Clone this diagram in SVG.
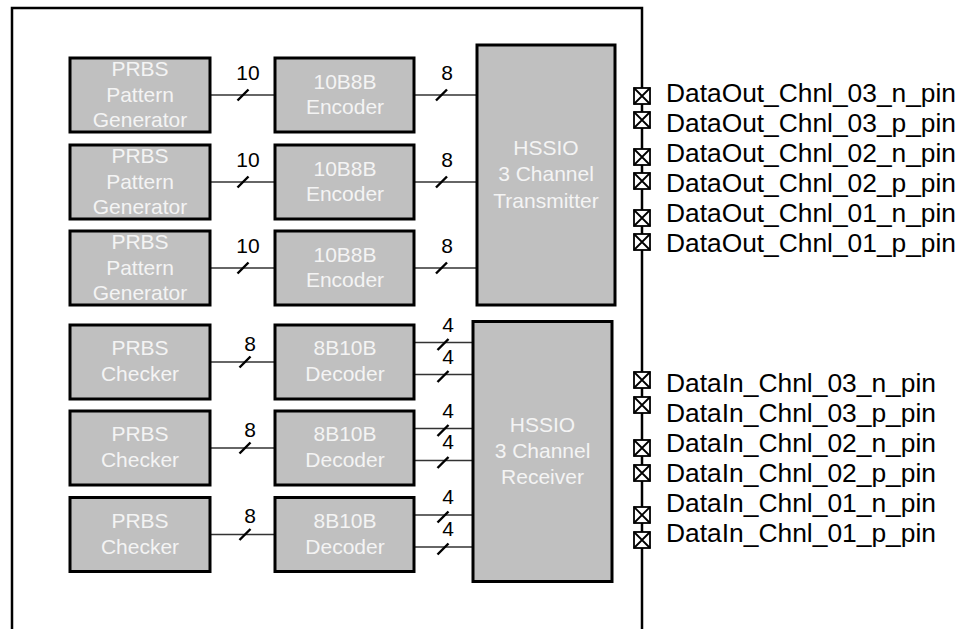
<svg xmlns="http://www.w3.org/2000/svg" width="963" height="629" viewBox="0 0 963 629">
<style>
.blk{fill:#c0c0c0;stroke:#000;stroke-width:3}
.bt{font-family:"Liberation Sans",Arial,sans-serif;font-size:21px;fill:#f4f4f4;text-anchor:middle}
.lbl{font-family:"Liberation Sans",Arial,sans-serif;font-size:21px;fill:#000;text-anchor:middle}
.pin{font-family:"Liberation Sans",Arial,sans-serif;font-size:25.5px;fill:#000}
.wire{stroke:#333;stroke-width:1.6;fill:none}
.sl{stroke:#000;stroke-width:2.4}
.frame{stroke:#000;stroke-width:2.5;fill:none}
.pb{fill:#fff;stroke:#000;stroke-width:1.8}
</style>
<defs>
<g id="pad"><rect class="pb" x="-8" y="-8" width="16" height="16"/><path d="M-8,-8L8,8M8,-8L-8,8" stroke="#000" stroke-width="1.8"/></g>
<path id="slash" d="M-5.5,5.5L5.5,-5.5" class="sl"/>
</defs>
<path class="frame" d="M12,629V8H642V629"/>

<g id="connectors">
<line class="wire" x1="210" y1="95" x2="275" y2="95"/>
<line class="wire" x1="210" y1="182" x2="275" y2="182"/>
<line class="wire" x1="210" y1="268" x2="275" y2="268"/>
<line class="wire" x1="414" y1="95" x2="477" y2="95"/>
<line class="wire" x1="414" y1="182" x2="477" y2="182"/>
<line class="wire" x1="414" y1="268" x2="477" y2="268"/>
<line class="wire" x1="210" y1="362" x2="275" y2="362"/>
<line class="wire" x1="210" y1="448" x2="275" y2="448"/>
<line class="wire" x1="210" y1="534.5" x2="275" y2="534.5"/>
<line class="wire" x1="414" y1="342.5" x2="473" y2="342.5"/>
<line class="wire" x1="414" y1="374.5" x2="473" y2="374.5"/>
<line class="wire" x1="414" y1="428.5" x2="473" y2="428.5"/>
<line class="wire" x1="414" y1="460.5" x2="473" y2="460.5"/>
<line class="wire" x1="414" y1="515" x2="473" y2="515"/>
<line class="wire" x1="414" y1="547" x2="473" y2="547"/>
<use href="#slash" x="243" y="95"/>
<use href="#slash" x="243" y="182"/>
<use href="#slash" x="243" y="268"/>
<use href="#slash" x="441.5" y="95"/>
<use href="#slash" x="441.5" y="182"/>
<use href="#slash" x="441.5" y="268"/>
<use href="#slash" x="245" y="362"/>
<use href="#slash" x="245" y="448"/>
<use href="#slash" x="245" y="534.5"/>
<use href="#slash" x="443" y="344.5"/>
<use href="#slash" x="443" y="376.5"/>
<use href="#slash" x="443" y="430.5"/>
<use href="#slash" x="443" y="462.5"/>
<use href="#slash" x="443" y="517"/>
<use href="#slash" x="443" y="549"/>
<text class="lbl" x="248" y="80">10</text>
<text class="lbl" x="248" y="167">10</text>
<text class="lbl" x="248" y="253">10</text>
<text class="lbl" x="447" y="80">8</text>
<text class="lbl" x="447" y="167">8</text>
<text class="lbl" x="447" y="253">8</text>
<text class="lbl" x="250" y="350.5">8</text>
<text class="lbl" x="250" y="436.5">8</text>
<text class="lbl" x="250" y="523">8</text>
<text class="lbl" x="448" y="331.5">4</text>
<text class="lbl" x="448" y="363.5">4</text>
<text class="lbl" x="448" y="417.5">4</text>
<text class="lbl" x="448" y="449">4</text>
<text class="lbl" x="448" y="504">4</text>
<text class="lbl" x="448" y="535.5">4</text>
</g>

<g id="gen1"><rect class="blk" x="70" y="58" width="140" height="74"/><text class="bt" x="140" y="76">PRBS</text><text class="bt" x="140" y="101.7">Pattern</text><text class="bt" x="140" y="127.3">Generator</text></g>
<g id="gen2"><rect class="blk" x="70" y="145" width="140" height="74"/><text class="bt" x="140" y="163">PRBS</text><text class="bt" x="140" y="188.7">Pattern</text><text class="bt" x="140" y="214.3">Generator</text></g>
<g id="gen3"><rect class="blk" x="70" y="231" width="140" height="74"/><text class="bt" x="140" y="249">PRBS</text><text class="bt" x="140" y="274.7">Pattern</text><text class="bt" x="140" y="300.3">Generator</text></g>

<g id="enc1"><rect class="blk" x="275" y="58" width="139" height="74"/><text class="bt" x="345" y="89.3">10B8B</text><text class="bt" x="345" y="114.3">Encoder</text></g>
<g id="enc2"><rect class="blk" x="275" y="145" width="139" height="74"/><text class="bt" x="345" y="176.3">10B8B</text><text class="bt" x="345" y="201.3">Encoder</text></g>
<g id="enc3"><rect class="blk" x="275" y="231" width="139" height="74"/><text class="bt" x="345" y="262.3">10B8B</text><text class="bt" x="345" y="287.3">Encoder</text></g>

<g id="tx"><rect class="blk" x="477" y="45" width="138" height="260"/><text class="bt" x="546" y="154.5">HSSIO</text><text class="bt" x="546" y="181">3 Channel</text><text class="bt" x="546" y="207.5">Transmitter</text></g>

<g id="chk1"><rect class="blk" x="70" y="325" width="140" height="74"/><text class="bt" x="140" y="355">PRBS</text><text class="bt" x="140" y="381">Checker</text></g>
<g id="chk2"><rect class="blk" x="70" y="411" width="140" height="74"/><text class="bt" x="140" y="441">PRBS</text><text class="bt" x="140" y="467">Checker</text></g>
<g id="chk3"><rect class="blk" x="70" y="497.5" width="140" height="74"/><text class="bt" x="140" y="527.5">PRBS</text><text class="bt" x="140" y="553.5">Checker</text></g>

<g id="dec1"><rect class="blk" x="275" y="325" width="139" height="74"/><text class="bt" x="345" y="355">8B10B</text><text class="bt" x="345" y="381">Decoder</text></g>
<g id="dec2"><rect class="blk" x="275" y="411" width="139" height="74"/><text class="bt" x="345" y="441">8B10B</text><text class="bt" x="345" y="467">Decoder</text></g>
<g id="dec3"><rect class="blk" x="275" y="497.5" width="139" height="74"/><text class="bt" x="345" y="527.5">8B10B</text><text class="bt" x="345" y="553.5">Decoder</text></g>

<g id="rx"><rect class="blk" x="473" y="321.5" width="139" height="260"/><text class="bt" x="542.5" y="432">HSSIO</text><text class="bt" x="542.5" y="458">3 Channel</text><text class="bt" x="542.5" y="484">Receiver</text></g>

<g id="pins_out">
<use href="#pad" x="642" y="96"/><use href="#pad" x="642" y="120"/>
<use href="#pad" x="642" y="157"/><use href="#pad" x="642" y="181"/>
<use href="#pad" x="642" y="218"/><use href="#pad" x="642" y="242"/>
<text class="pin" x="666" y="101.7" textLength="290" lengthAdjust="spacingAndGlyphs">DataOut_Chnl_03_n_pin</text>
<text class="pin" x="666" y="131.7" textLength="290" lengthAdjust="spacingAndGlyphs">DataOut_Chnl_03_p_pin</text>
<text class="pin" x="666" y="161.7" textLength="290" lengthAdjust="spacingAndGlyphs">DataOut_Chnl_02_n_pin</text>
<text class="pin" x="666" y="191.7" textLength="290" lengthAdjust="spacingAndGlyphs">DataOut_Chnl_02_p_pin</text>
<text class="pin" x="666" y="221.7" textLength="290" lengthAdjust="spacingAndGlyphs">DataOut_Chnl_01_n_pin</text>
<text class="pin" x="666" y="251.7" textLength="290" lengthAdjust="spacingAndGlyphs">DataOut_Chnl_01_p_pin</text>
</g>
<g id="pins_in">
<use href="#pad" x="642" y="380"/><use href="#pad" x="642" y="405"/>
<use href="#pad" x="642" y="448"/><use href="#pad" x="642" y="473"/>
<use href="#pad" x="642" y="515"/><use href="#pad" x="642" y="540"/>
<text class="pin" x="666" y="391.7" textLength="270" lengthAdjust="spacingAndGlyphs">DataIn_Chnl_03_n_pin</text>
<text class="pin" x="666" y="421.7" textLength="270" lengthAdjust="spacingAndGlyphs">DataIn_Chnl_03_p_pin</text>
<text class="pin" x="666" y="451.7" textLength="270" lengthAdjust="spacingAndGlyphs">DataIn_Chnl_02_n_pin</text>
<text class="pin" x="666" y="481.7" textLength="270" lengthAdjust="spacingAndGlyphs">DataIn_Chnl_02_p_pin</text>
<text class="pin" x="666" y="511.7" textLength="270" lengthAdjust="spacingAndGlyphs">DataIn_Chnl_01_n_pin</text>
<text class="pin" x="666" y="541.7" textLength="270" lengthAdjust="spacingAndGlyphs">DataIn_Chnl_01_p_pin</text>
</g>
</svg>
